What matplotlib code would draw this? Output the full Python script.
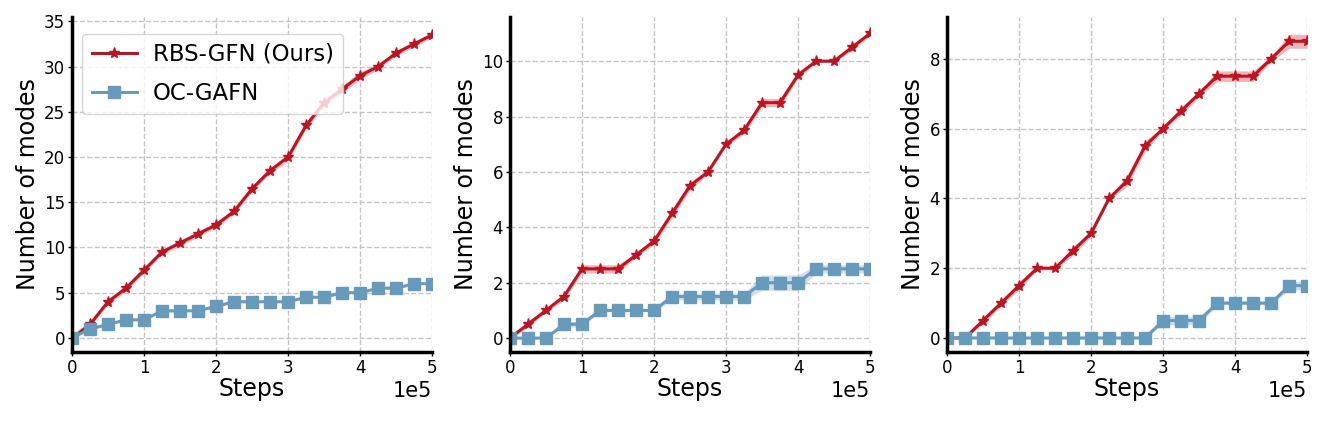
import matplotlib.pyplot as plt
import numpy as np

plt.rc("font", family="DejaVu Sans")

steps = [0.00, 0.25, 0.50, 0.75, 1.00, 1.25, 1.50, 1.75, 2.00, 2.25, 2.50,
         2.75, 3.00, 3.25, 3.50, 3.75, 4.00, 4.25, 4.50, 4.75, 5.00]

# panel 1
rbs_1 = [0, 1.5, 4, 5.5, 7.5, 9.5, 10.5, 11.5, 12.5, 14, 16.5,
         18.5, 20, 23.5, 26, 27.5, 29, 30, 31.5, 32.5, 33.5]
rbs_1_std = [0, 0.2, 0.3, 0.3, 0.3, 0.3, 0.3, 0.3, 0.3, 0.3, 0.3,
             0.3, 0.4, 0.4, 0.4, 0.4, 0.4, 0.3, 0.3, 0.3, 0.3]
oc_1 = [0, 1, 1.5, 2, 2, 3, 3, 3, 3.5, 4, 4,
        4, 4, 4.5, 4.5, 5, 5, 5.5, 5.5, 6, 6]
oc_1_std = [0, 0.1, 0.1, 0.1, 0.1, 0.1, 0.1, 0.1, 0.1, 0.1, 0.1,
            0.1, 0.1, 0.1, 0.1, 0.1, 0.1, 0.1, 0.1, 0.1, 0.1]

# panel 2
rbs_2 = [0, 0.5, 1, 1.5, 2.5, 2.5, 2.5, 3, 3.5, 4.5, 5.5,
         6, 7, 7.5, 8.5, 8.5, 9.5, 10, 10, 10.5, 11]
rbs_2_std = [0.05, 0.1, 0.08, 0.12, 0.15, 0.15, 0.15, 0.08, 0.12, 0.15, 0.15,
             0.08, 0.08, 0.12, 0.15, 0.15, 0.12, 0.05, 0.05, 0.12, 0.08]
oc_2 = [0, 0, 0, 0.5, 0.5, 1, 1, 1, 1, 1.5, 1.5,
        1.5, 1.5, 1.5, 2, 2, 2, 2.5, 2.5, 2.5, 2.5]
oc_2_std = [0, 0, 0, 0.1, 0.1, 0.05, 0.05, 0.05, 0.05, 0.12, 0.12,
            0.12, 0.12, 0.12, 0.28, 0.28, 0.28, 0.15, 0.15, 0.15, 0.15]

# panel 3
rbs_3 = [0, 0, 0.5, 1, 1.5, 2, 2, 2.5, 3, 4, 4.5,
         5.5, 6, 6.5, 7, 7.5, 7.5, 7.5, 8, 8.5, 8.5]
rbs_3_std = [0, 0, 0.1, 0.08, 0.12, 0.05, 0.05, 0.12, 0.08, 0.05, 0.15,
             0.15, 0.05, 0.12, 0.08, 0.15, 0.15, 0.15, 0.08, 0.2, 0.2]
oc_3 = [0, 0, 0, 0, 0, 0, 0, 0, 0, 0, 0,
        0, 0.5, 0.5, 0.5, 1, 1, 1, 1, 1.5, 1.5]
oc_3_std = [0, 0, 0, 0, 0, 0, 0, 0, 0, 0, 0,
            0, 0.12, 0.12, 0.12, 0.05, 0.05, 0.05, 0.05, 0.12, 0.12]

red = '#c1121f'
blue = '#669bbc'

panels = [
    (rbs_1, rbs_1_std, oc_1, oc_1_std, (-1.55, 35.5), 0.0542),
    (rbs_2, rbs_2_std, oc_2, oc_2_std, (-0.5, 11.6), 0.3837),
    (rbs_3, rbs_3_std, oc_3, oc_3_std, (-0.4, 9.2), 0.7126),
]

fig = plt.figure(figsize=(13.29, 4.21), dpi=100)
x = np.array(steps) * 1e5

for i, (r, rs, o, os_, ylim, left) in enumerate(panels):
    ax = fig.add_axes([left, 0.164, 0.271, 0.796])
    r, rs, o, os_ = map(np.array, (r, rs, o, os_))

    ax.fill_between(x, r - rs, r + rs, color=red, alpha=0.3, lw=0)
    ax.plot(x, r, color=red, lw=2.2, marker='*', markersize=8, label='RBS-GFN (Ours)')
    ax.fill_between(x, o - os_, o + os_, color=blue, alpha=0.3, lw=0)
    ax.plot(x, o, color=blue, lw=2.2, marker='s', markersize=8, label='OC-GAFN')

    ax.set_xlim(0, 5e5)
    ax.set_ylim(*ylim)
    ax.ticklabel_format(axis='x', style='sci', scilimits=(0, 0))
    ax.xaxis.get_offset_text().set_fontsize(15)
    ax.tick_params(labelsize=12, length=3, width=1, pad=2)
    ax.set_xlabel('Steps', fontsize=17, labelpad=0)
    ax.set_ylabel('Number of modes', fontsize=17, labelpad=3)
    ax.grid(True, linestyle='--', color='#c4c4c4', linewidth=1)
    ax.spines['top'].set_visible(False)
    ax.spines['right'].set_visible(False)
    ax.spines['left'].set_linewidth(2.5)
    ax.spines['bottom'].set_linewidth(2.5)

    if i == 0:
        ax.legend(loc='upper left', fontsize=16.4, framealpha=0.8,
                  handlelength=2.0, handletextpad=0.7, labelspacing=0.7,
                  borderaxespad=0.3, bbox_to_anchor=(0.01, 0.97))

fig.savefig('out.png', dpi=100)
